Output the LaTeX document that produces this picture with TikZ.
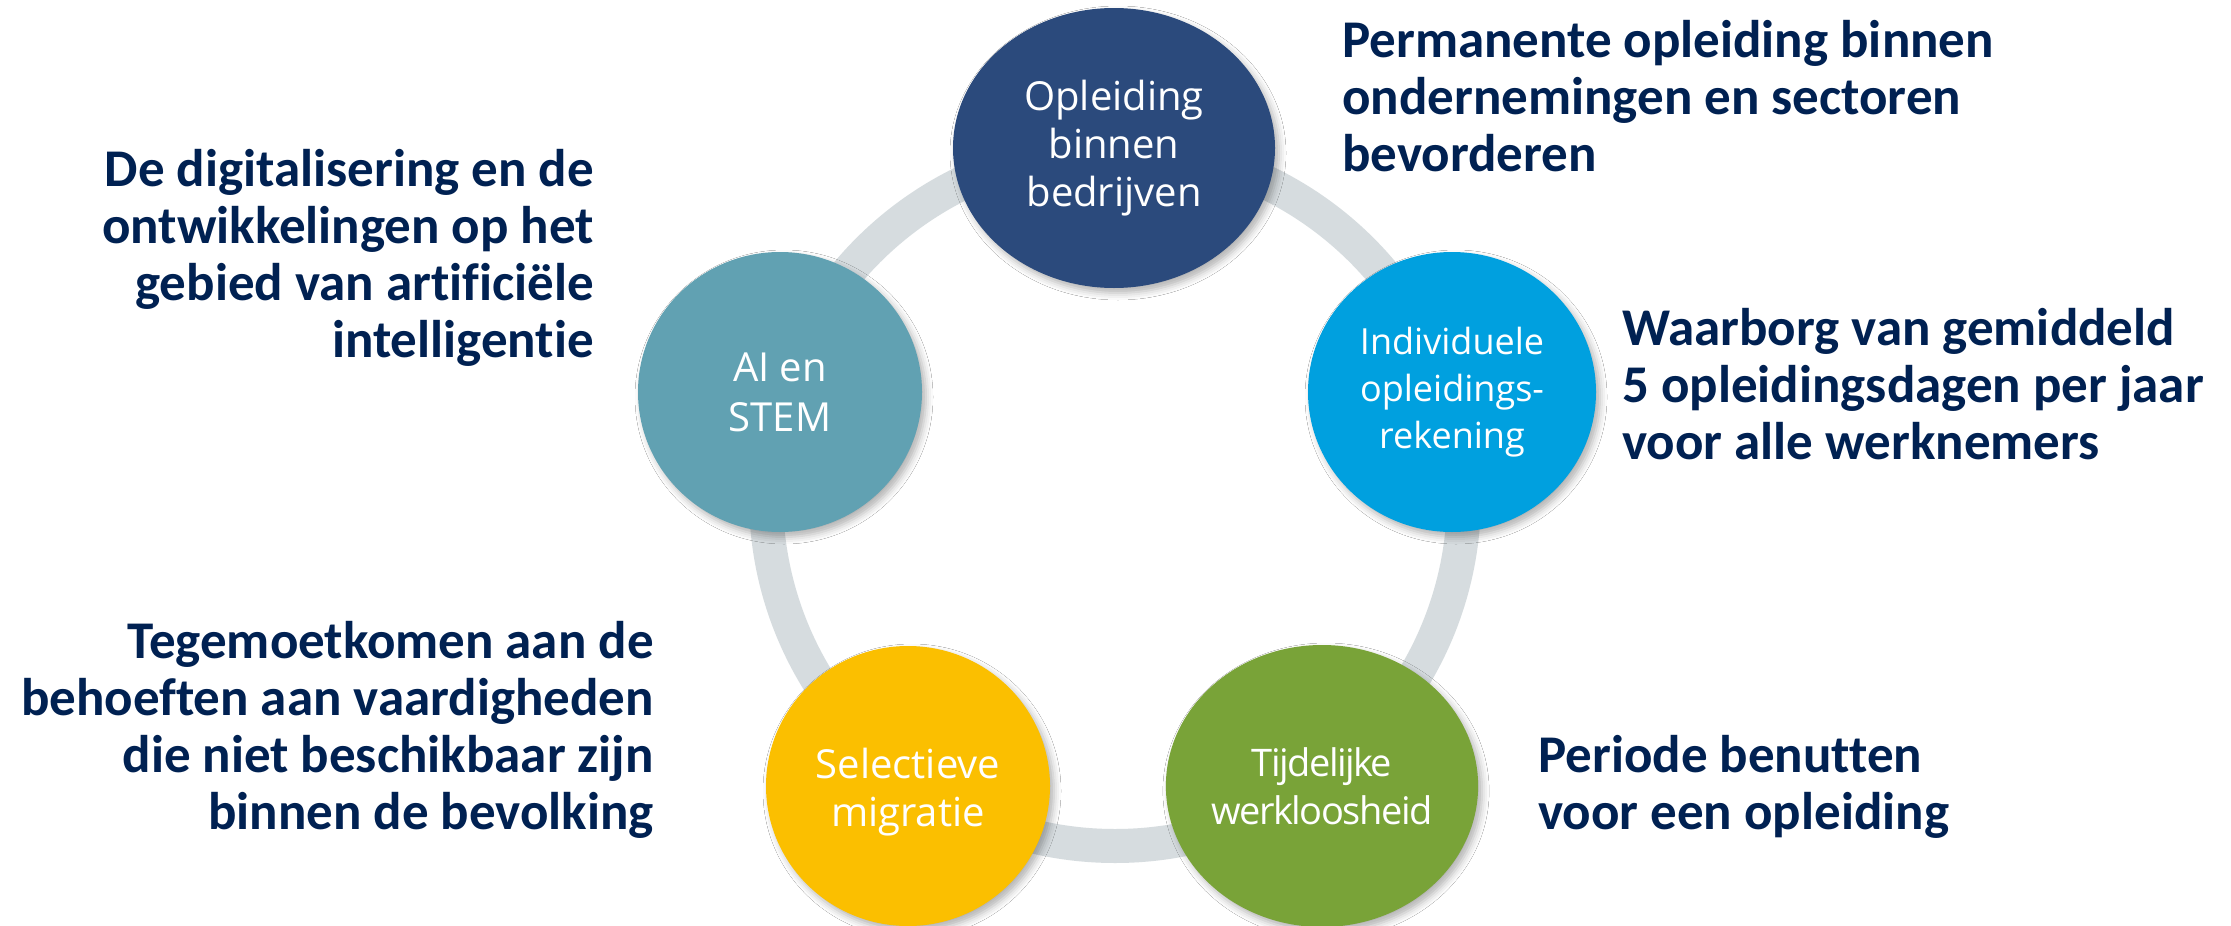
\documentclass[tikz,border=0pt]{standalone}
\usepackage{fontspec}
\newfontfamily\lblfont{Carlito}[Ligatures={CommonOff,RequiredOff,ContextualOff,RareOff}]
\newfontfamily\circfont{Open Sans}
\newfontfamily\circtight{Open Sans}[LetterSpace=-4]
\usetikzlibrary{shapes.geometric,shadows.blur}
\definecolor{cdark}{RGB}{43,74,124}
\definecolor{cblue}{RGB}{0,160,223}
\definecolor{cteal}{RGB}{97,161,178}
\definecolor{cgreen}{RGB}{121,163,56}
\definecolor{cyellow}{RGB}{251,191,0}
\definecolor{cring}{RGB}{214,220,223}
\definecolor{cnavy}{RGB}{0,33,82}
\begin{document}
\begin{tikzpicture}[x=1pt,y=-1pt,
  bubble/.style={ellipse, inner sep=0pt, text=white, align=center,
    font=\circfont\fontsize{40}{48}\selectfont,
    blur shadow={shadow xshift=4pt,shadow yshift=-5pt,shadow blur radius=7pt,shadow opacity=30}},
  note/.style={inner sep=0pt, text=cnavy, font=\lblfont\bfseries\fontsize{53}{57}\selectfont},
  ring/.style={draw=cring, line width=34pt}]
\useasboundingbox (0,0) rectangle (2231,926);
\fill[white] (0,0) rectangle (2231,926);
\coordinate (hub) at (1115,497);
\draw[ring] (hub) circle (349);

\node[bubble, fill=cdark, minimum width=322pt, minimum height=280pt] (obb) at (1114,148) {Opleiding\\binnen\\bedrijven};
\node[bubble, fill=cblue, minimum width=288pt, minimum height=280pt,
  font=\circfont\fontsize{36}{47}\selectfont] (ior) at (1452,392) {Individuele\\opleidings-\\rekening};
\node[bubble, fill=cgreen, minimum width=312pt, minimum height=282pt,
  font=\circtight\fontsize{38}{48}\selectfont] (tw) at (1322,786) {Tijdelijke\\werkloosheid};
\node[bubble, fill=cyellow, minimum width=284pt, minimum height=280pt] (sm) at (908,786) {};
\node[text=white, align=center, font=\circfont\fontsize{40}{48}\selectfont] (smt) at (908,792) {Selectieve\\migratie};
\node[bubble, fill=cteal, minimum width=284pt, minimum height=280pt,
  font=\circfont\fontsize{40}{50}\selectfont] (ai) at (780,392) {AI en\\STEM};

\node[note, anchor=north west, align=left] (tr) at (1342,20) {Permanente opleiding binnen\\ondernemingen en sectoren\\bevorderen};
\node[note, anchor=north west, align=left] (rm) at (1622,308) {Waarborg van gemiddeld\\5 opleidingsdagen per jaar\\voor alle werknemers};
\node[note, anchor=north west, align=left] (rb) at (1538,735) {Periode benutten\\voor een opleiding};
\node[note, anchor=north east, align=right] (lt) at (594,149) {De digitalisering en de\\ontwikkelingen op het\\gebied van artificiële\\intelligentie};
\node[note, anchor=north east, align=right] (lb) at (654,621) {Tegemoetkomen aan de\\behoeften aan vaardigheden\\die niet beschikbaar zijn\\binnen de bevolking};
\end{tikzpicture}
\end{document}
